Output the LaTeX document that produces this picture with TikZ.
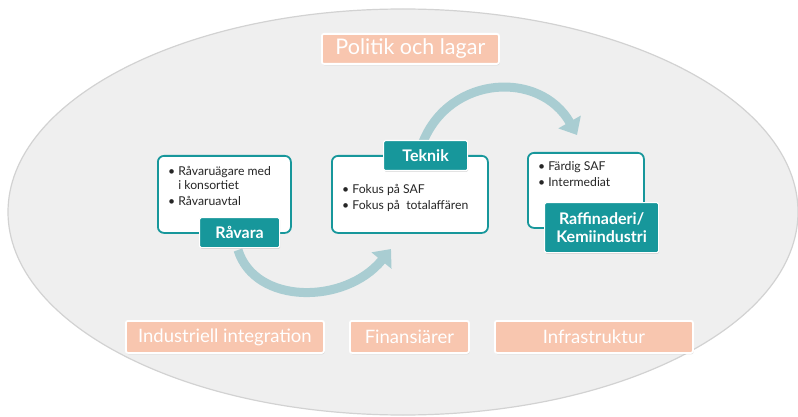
\documentclass[tikz,border=0pt]{standalone}
\usepackage{fontspec}
\setmainfont{Lato}
\usetikzlibrary{arrows.meta,shadows,shapes.geometric}

\definecolor{bgfill}{HTML}{EFEFEF}
\definecolor{bgline}{HTML}{D2D2D2}
\definecolor{teal}{HTML}{17979B}
\definecolor{flow}{HTML}{A9CDD2}
\definecolor{peach}{HTML}{F8C6AF}
\definecolor{bodytext}{HTML}{262626}

\tikzset{
  txtbox/.style={draw=teal, line width=1.8pt, fill=white, rounded corners=6pt,
    anchor=north west, inner sep=0pt},
  tag/.style={fill=teal, draw=white, line width=1.2pt, rounded corners=1.5pt,
    text=white, font=\fontsize{16}{17.5}\selectfont\bfseries, align=center,
    anchor=north west, inner sep=0pt,
    drop shadow={opacity=0.25, shadow xshift=0.6pt, shadow yshift=-1.2pt}},
  factor/.style={fill=peach, draw=white, line width=1.8pt, rounded corners=2pt,
    text=white, anchor=north west, inner sep=0pt,
    drop shadow={opacity=0.22, shadow xshift=0.6pt, shadow yshift=-1.4pt}},
  bullets/.style={anchor=north west, align=left, text=bodytext, inner sep=0pt,
    font=\fontsize{12.2}{14.5}\selectfont},
  flowarrow/.style={draw=flow, line width=9pt,
    -{Triangle[length=15pt, width=25pt]}}
}

\begin{document}
\begin{tikzpicture}[x=1pt, y=-1pt]
  \useasboundingbox (0,0) rectangle (798,417);

  % surrounding context
  \node[ellipse, draw=bgline, fill=bgfill, line width=1.2pt, minimum width=790pt,
    minimum height=406pt, inner sep=0pt] (ctx) at (403,212) {};

  % flow arrows between the stages
  \coordinate (a1s) at (238,250);
  \coordinate (a1e) at (391,249);
  \coordinate (a2s) at (423,142);
  \coordinate (a2e) at (577,135);
  \draw[flowarrow] (a1s) .. controls (255,305) and (345,305) .. (a1e);
  \draw[flowarrow] (a2s) .. controls (450,75) and (540,70) .. (a2e);

  % stage boxes
  \node[txtbox, minimum width=133pt, minimum height=77pt] (rbox) at (157,155) {};
  \node[txtbox, minimum width=156pt, minimum height=77pt] (tbox) at (331,155) {};
  \node[txtbox, minimum width=116pt, minimum height=75pt] (kbox) at (527,152) {};

  \node[bullets] (rtxt) at (168,166) {\textbullet\ Råvaruägare med\\
    \phantom{\textbullet\ }i konsortiet\\[1.5pt]\textbullet\ Råvaruavtal};
  \node[bullets] (ttxt) at (342,184) {\textbullet\ Fokus på SAF\\[1.5pt]
    \textbullet\ Fokus på\ \ totalaffären};
  \node[bullets] (ktxt) at (538,161) {\textbullet\ Färdig SAF\\[1.5pt]
    \textbullet\ Intermediat};

  % stage titles
  \node[tag, minimum width=80pt, minimum height=30pt] (rtag) at (199,217) {Råvara};
  \node[tag, minimum width=84pt, minimum height=30pt] (ttag) at (383,140) {Teknik};
  \node[tag, minimum width=114pt, minimum height=50pt] (ktag) at (544,202)
    {Raffinaderi/\\Kemiindustri};

  % framework factors
  \node[factor, minimum width=177pt, minimum height=30pt,
    font=\fontsize{21.5}{23}\selectfont] (pol) at (321,33) {Politik och lagar};
  \node[factor, minimum width=198pt, minimum height=32pt,
    font=\fontsize{18.5}{20}\selectfont] (ind) at (125,320) {Industriell integration};
  \node[factor, minimum width=119pt, minimum height=32pt,
    font=\fontsize{18.5}{20}\selectfont] (fin) at (349,320) {Finansiärer};
  \node[factor, minimum width=198pt, minimum height=32pt,
    font=\fontsize{18.5}{20}\selectfont] (inf) at (494,320) {Infrastruktur};
\end{tikzpicture}
\end{document}
